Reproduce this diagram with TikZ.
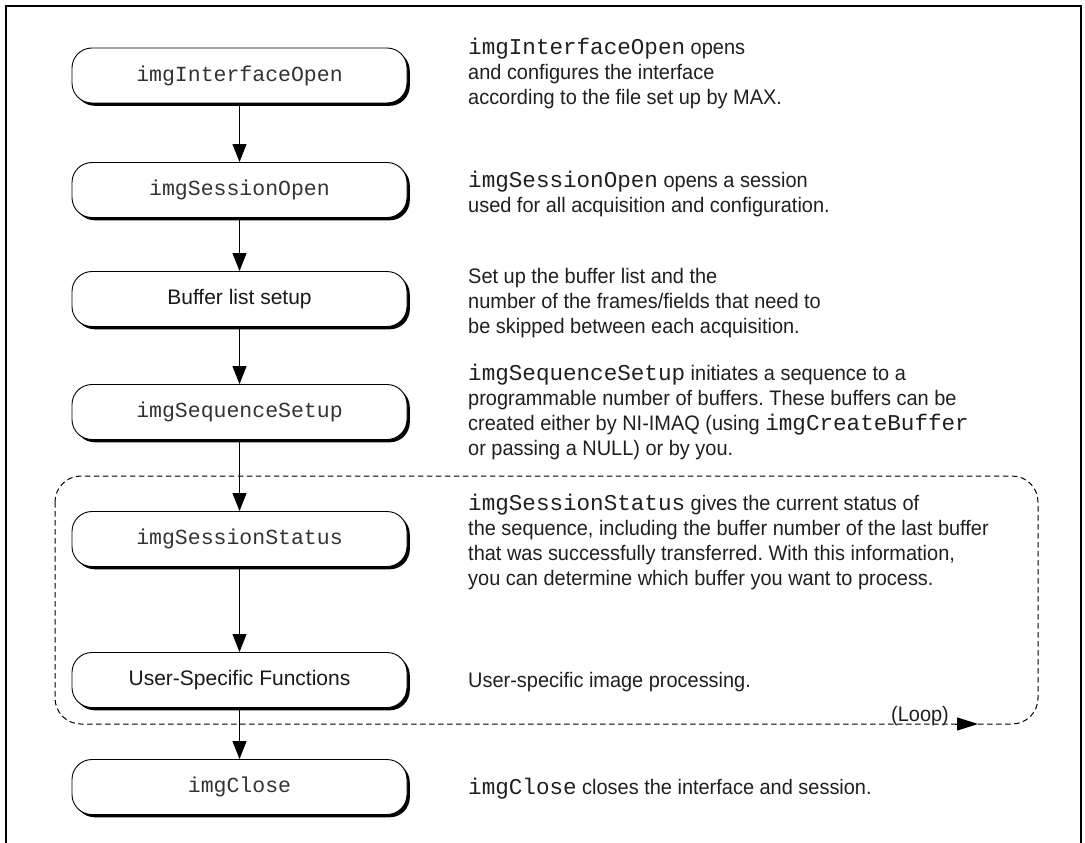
\documentclass[tikz,border=0pt]{standalone}
\usepackage{fontspec}
\setmainfont{Liberation Sans}
\newfontfamily\descfont{Liberation Sans}[FakeStretch=0.95]
\newfontfamily\codefont{Liberation Mono}
\usetikzlibrary{arrows.meta,shadows}
\frenchspacing

% inline function names in the descriptions
\newcommand{\fname}[1]{{\codefont\fontsize{22.6}{25}\selectfont #1}}

\tikzset{
  stepbox/.style={draw=black, line width=0.9pt, fill=white, rounded corners=20pt,
    minimum width=335pt, minimum height=55pt, inner sep=0pt,
    text=black!90, font=\fontsize{21}{25}\selectfont,
    drop shadow={shadow xshift=2.8pt, shadow yshift=-2.8pt, fill=black, opacity=1}},
  codebox/.style={stepbox, font=\codefont\fontsize{21.5}{25}\selectfont, text=black!80},
  % anchored at the baseline of the last line
  desc/.style={anchor=base west, align=left, inner sep=0pt, text=black!88,
    font=\descfont\fontsize{21}{25}\selectfont},
  flow/.style={line width=0.9pt, -{Triangle[length=18pt,width=14pt]}},
  loopline/.style={line width=1pt, dash pattern=on 5.5pt off 3.5pt, rounded corners=26pt},
  frameline/.style={line width=2pt, line cap=rect},
}

\begin{document}
\begin{tikzpicture}[x=1pt, y=-1pt]
\useasboundingbox (0,0) rectangle (1085,843);

% outer frame (open at the bottom)
\draw[frameline] (6,843) -- (6,6) -- (1081,6);
\draw[line width=1.5pt] (1081,6) -- (1081,843);

% loop region
\draw[loopline] (55,476) rectangle (1038,724);
\coordinate (loopA) at (955,724);
\coordinate (loopB) at (978,724);
\draw[line width=0.9pt, -{Triangle[length=21pt,width=13pt]}] (loopA) -- (loopB);
\node[anchor=base west, inner sep=0pt, font=\descfont\fontsize{21}{25}\selectfont, text=black!88]
  (looplabel) at (891,721) {(Loop)};

% flow steps
\node[codebox] (n1) at (239.5,75.5) {imgInterfaceOpen};
\node[codebox] (n2) at (239.5,190) {imgSessionOpen};
\node[stepbox] (n3) at (239.5,299) {Buffer list setup};
\node[codebox] (n4) at (239.5,412) {imgSequenceSetup};
\node[codebox] (n5) at (239.5,539) {imgSessionStatus};
\node[stepbox] (n6) at (239.5,680) {User-Specific Functions};
\node[codebox] (n7) at (239.5,787) {imgClose};

\draw[flow] (n1.south) -- (n2.north);
\draw[flow] (n2.south) -- (n3.north);
\draw[flow] (n3.south) -- (n4.north);
\draw[flow] (n4.south) -- (n5.north);
\draw[flow] (n5.south) -- (n6.north);
\draw[flow] (n6.south) -- (n7.north);

% descriptions
\node[desc] (d1) at (468,104) {\fname{imgInterfaceOpen} opens\\
  and configures the interface\\
  according to the file set up by MAX.};
\node[desc] (d2) at (468,212) {\fname{imgSessionOpen} opens a session\\
  used for all acquisition and configuration.};
\node[desc] (d3) at (468,333) {Set up the buffer list and the\\
  number of the frames/fields that need to\\
  be skipped between each acquisition.};
\node[desc] (d4) at (468,455) {\fname{imgSequenceSetup} initiates a sequence to a\\
  programmable number of buffers. These buffers can be\\
  created either by NI-IMAQ (using \fname{imgCreateBuffer}\\
  or passing a NULL) or by you.};
\node[desc] (d5) at (468,585) {\fname{imgSessionStatus} gives the current status of\\
  the sequence, including the buffer number of the last buffer\\
  that was successfully transferred. With this information,\\
  you can determine which buffer you want to process.};
\node[desc] (d6) at (468,687) {User-specific image processing.};
\node[desc] (d7) at (468,794) {\fname{imgClose} closes the interface and session.};
\end{tikzpicture}
\end{document}
